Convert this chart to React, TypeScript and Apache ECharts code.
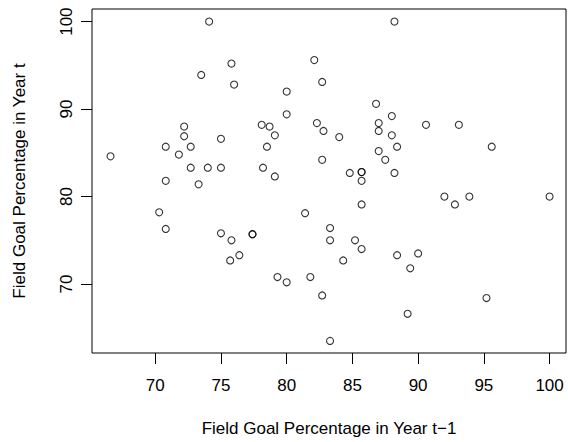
import React, { useEffect, useRef } from "react";
import * as echarts from "echarts";

const prevYear: number[] = [
  74.1, 73.5, 75.8, 72.2, 72.2, 75.0, 70.8, 71.8, 72.7, 66.6,
  72.7, 74.0, 75.0, 70.8, 73.3, 70.3, 70.8, 75.0, 75.8, 75.7,
  78.2, 79.1, 82.7, 84.8, 85.7, 85.7, 85.7, 87.5, 88.2, 85.7,
  81.4, 77.4, 77.4, 76.4, 83.3, 83.3, 85.2, 85.7, 84.3, 88.4,
  79.3, 80.0, 81.8, 82.7, 92.0, 92.8, 93.9, 100.0, 90.0, 89.4,
  95.2, 89.2, 83.3, 88.2, 82.1, 76.0, 82.7, 80.0, 80.0, 86.8,
  88.0, 87.0, 87.0, 88.0, 88.4, 78.1, 78.7, 79.1, 78.5, 82.3,
  82.8, 84.0, 87.0, 90.6, 93.1, 95.6,
];

const thisYear: number[] = [
  100.0, 93.9, 95.2, 88.0, 86.9, 86.6, 85.7, 84.8, 85.7, 84.6,
  83.3, 83.3, 83.3, 81.8, 81.4, 78.2, 76.3, 75.8, 75.0, 72.7,
  83.3, 82.3, 84.2, 82.7, 82.8, 82.8, 81.8, 84.2, 82.7, 79.1,
  78.1, 75.7, 75.7, 73.3, 76.4, 75.0, 75.0, 74.0, 72.7, 73.3,
  70.8, 70.2, 70.8, 68.7, 80.0, 79.1, 80.0, 80.0, 73.5, 71.8,
  68.4, 66.6, 63.5, 100.0, 95.6, 92.8, 93.1, 92.0, 89.4, 90.6,
  89.2, 88.4, 87.5, 87.0, 85.7, 88.2, 88.0, 87.0, 85.7, 88.4,
  87.5, 86.8, 85.2, 88.2, 88.2, 85.7,
];

const xTicks: number[] = [70, 75, 80, 85, 90, 95, 100];
const yTicks: number[] = [70, 80, 90, 100];

const xTitle = "Field Goal Percentage in Year t\u22121";
const yTitle = "Field Goal Percentage in Year t";

export default function App() {
  const ref = useRef<HTMLDivElement>(null);

  useEffect(() => {
    if (!ref.current) return;
    const chart = echarts.init(ref.current, null, { renderer: "svg" });
    const font = "Liberation Sans, Arial, Helvetica, sans-serif";
    const data = prevYear.map((x, i) => [x, thisYear[i]]);
    chart.setOption({
      animation: false,
      backgroundColor: "#ffffff",
      grid: {
        left: 92,
        right: 2,
        top: 9,
        bottom: 87,
        show: true,
        borderColor: "#000000",
        borderWidth: 1,
        backgroundColor: "transparent",
      },
      xAxis: {
        type: "value",
        min: 65.19,
        max: 101.25,
        name: xTitle,
        nameLocation: "middle",
        nameGap: 67,
        nameTextStyle: { fontFamily: font, fontSize: 17, color: "#000" },
        axisLine: { show: false },
        splitLine: { show: false },
        axisTick: {
          show: true,
          length: 11,
          customValues: xTicks,
          lineStyle: { color: "#000", width: 1 },
        },
        axisLabel: {
          customValues: xTicks,
          margin: 24,
          fontFamily: font,
          fontSize: 17,
          color: "#000",
        },
      },
      yAxis: {
        type: "value",
        min: 62.12,
        max: 101.44,
        name: yTitle,
        nameLocation: "middle",
        nameGap: 64,
        nameTextStyle: { fontFamily: font, fontSize: 17, color: "#000" },
        axisLine: { show: false },
        splitLine: { show: false },
        axisTick: {
          show: true,
          length: 11,
          customValues: yTicks,
          lineStyle: { color: "#000", width: 1 },
        },
        axisLabel: {
          customValues: yTicks,
          rotate: 90,
          margin: 17,
          fontFamily: font,
          fontSize: 17,
          color: "#000",
        },
      },
      series: [
        {
          type: "scatter",
          data,
          symbol: "circle",
          symbolSize: 7,
          itemStyle: {
            color: "transparent",
            borderColor: "#000",
            borderWidth: 1.1,
          },
        },
      ],
    });
    return () => chart.dispose();
  }, []);

  return (
    <div
      ref={ref}
      style={{ position: "fixed", left: 0, top: 0, width: 568, height: 442 }}
    />
  );
}
